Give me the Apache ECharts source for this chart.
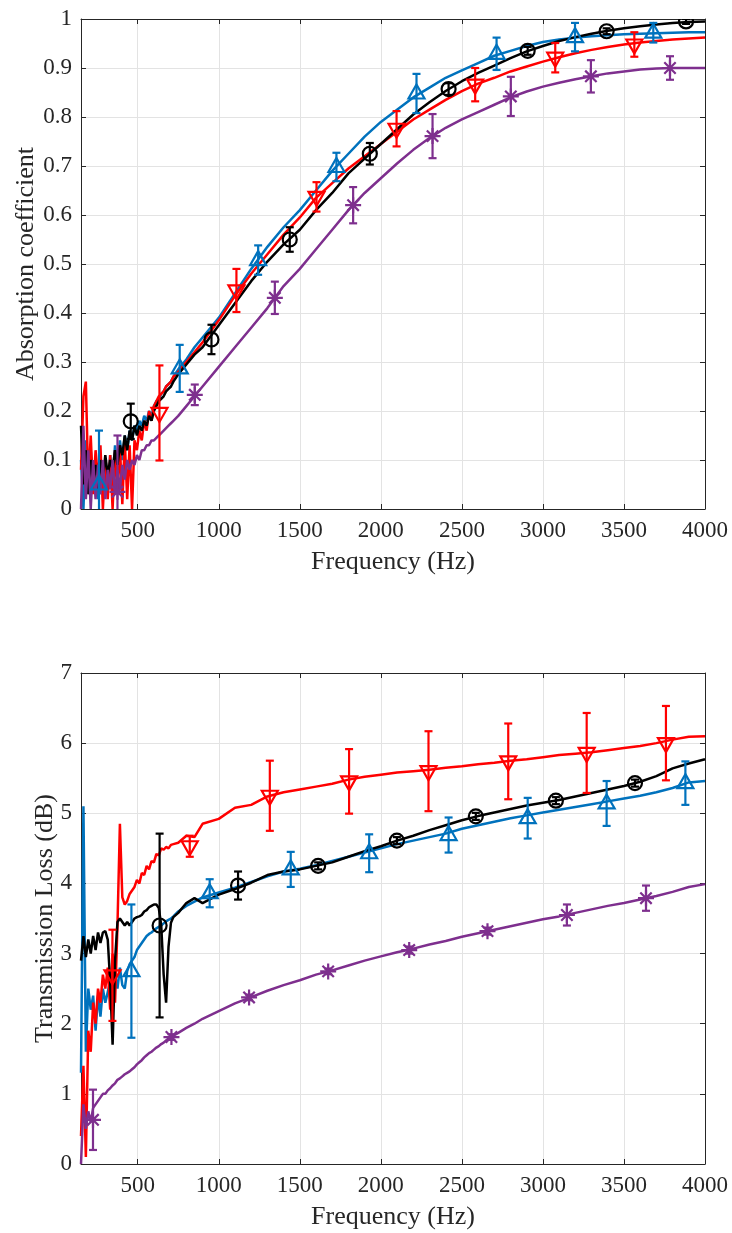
<!DOCTYPE html>
<html>
<head>
<meta charset="utf-8">
<script src="https://cdn.jsdelivr.net/npm/echarts@6/dist/echarts.min.js"></script>
<style>
  html, body { margin: 0; padding: 0; background: #fff; }
  #chart { width: 732px; height: 1233px; }
</style>
</head>
<body>
<div id="chart"></div>
<script>
// frequency grid shared by every measured curve (Hz)
const freq = [150,165,180,195,210,225,240,255,270,285,
  300,315,330,345,360,375,390,405,420,435,
  450,465,480,495,510,525,540,555,570,585,
  600,615,630,645,660,675,690,705,720,
  750,800,850,900,
  1000,1100,1200,1300,1400,1500,1600,1700,1800,1900,
  2000,2100,2200,2300,2400,2500,2600,2700,2800,2900,
  3000,3100,3200,3300,3400,3500,3600,3700,3800,3900,4000]

const xTicks = [500,1000,1500,2000,2500,3000,3500,4000]

// absorption coefficient curves
const absBlack = [0.17,0.05,0.12,0.03,0.10,0.06,0.09,0.04,0.10,0.06,
  0.11,0.07,0.10,0.08,0.12,0.09,0.13,0.11,0.15,0.12,
  0.16,0.14,0.17,0.15,0.17,0.16,0.18,0.17,0.19,0.18,
  0.20,0.21,0.22,0.225,0.23,0.24,0.245,0.25,0.26,
  0.275,0.295,0.315,0.33,
  0.375,0.42,0.465,0.505,0.54,0.57,0.61,0.645,0.685,0.715,
  0.745,0.775,0.805,0.83,0.853,0.873,0.89,0.905,0.92,0.934,
  0.945,0.955,0.963,0.97,0.976,0.981,0.985,0.989,0.992,0.994,0.995]
const absBlue = [0.10,0.0,0.14,0.04,0.12,0.05,0.10,0.02,0.11,0.05,
  0.10,0.04,0.11,0.06,0.13,0.08,0.14,0.10,0.15,0.12,
  0.16,0.14,0.17,0.16,0.18,0.17,0.19,0.18,0.20,0.19,
  0.21,0.22,0.225,0.235,0.24,0.25,0.255,0.26,0.27,
  0.285,0.305,0.33,0.35,
  0.39,0.44,0.49,0.535,0.575,0.61,0.65,0.69,0.725,0.76,
  0.79,0.815,0.84,0.86,0.88,0.895,0.91,0.925,0.935,0.945,
  0.953,0.958,0.962,0.965,0.967,0.969,0.97,0.971,0.972,0.973,0.973]
const absRed = [0.08,0.23,0.26,0.05,0.15,0.03,0.12,0.06,0.13,0.0,
  0.10,0.02,0.11,0.0,0.12,0.03,0.13,0.01,0.14,0.02,
  0.13,0.0,0.14,0.12,0.16,0.14,0.18,0.16,0.20,0.18,
  0.21,0.22,0.23,0.235,0.24,0.25,0.255,0.26,0.27,
  0.28,0.30,0.32,0.34,
  0.385,0.435,0.48,0.52,0.56,0.595,0.635,0.665,0.695,0.72,
  0.745,0.77,0.795,0.815,0.835,0.853,0.868,0.88,0.893,0.903,
  0.913,0.922,0.93,0.937,0.943,0.948,0.952,0.955,0.958,0.96,0.962]
const absPurple = [0.0,0.17,0.02,0.12,0.0,0.10,0.02,0.09,0.03,0.10,
  0.02,0.08,0.04,0.10,0.03,0.08,0.04,0.09,0.06,0.10,
  0.08,0.10,0.09,0.11,0.10,0.12,0.12,0.13,0.13,0.14,
  0.14,0.145,0.15,0.155,0.16,0.165,0.17,0.175,0.18,
  0.19,0.21,0.23,0.25,
  0.29,0.33,0.37,0.41,0.455,0.49,0.53,0.57,0.61,0.645,
  0.675,0.705,0.733,0.757,0.778,0.795,0.81,0.825,0.84,0.852,
  0.862,0.87,0.877,0.883,0.889,0.893,0.897,0.899,0.90,0.90,0.90]

// transmission loss curves (dB)
const tlBlack = [2.9,3.25,2.95,3.2,3.0,3.25,3.05,3.3,3.15,3.3,
  3.32,3.2,2.6,1.7,2.9,3.45,3.5,3.45,3.4,3.45,
  3.4,3.45,3.5,3.52,3.53,3.55,3.6,3.62,3.66,3.68,
  3.7,3.7,3.65,3.4,2.7,2.3,3.1,3.44,3.52,
  3.58,3.72,3.79,3.72,
  3.84,3.92,4.01,4.12,4.17,4.2,4.25,4.3,4.38,4.46,
  4.53,4.61,4.68,4.76,4.83,4.9,4.96,5.01,5.06,5.11,
  5.15,5.19,5.24,5.29,5.34,5.39,5.45,5.53,5.64,5.71,5.77]
const tlBlue = [1.3,5.1,1.6,2.5,2.2,2.4,1.9,2.4,2.1,2.5,
  2.3,2.45,2.6,2.3,2.7,2.5,2.8,2.55,2.5,2.75,
  2.85,2.9,2.95,3.05,3.1,3.15,3.2,3.25,3.28,3.3,
  3.33,3.36,3.38,3.4,3.43,3.46,3.48,3.5,3.53,
  3.6,3.68,3.74,3.8,
  3.87,3.94,4.02,4.1,4.17,4.21,4.26,4.32,4.38,4.44,
  4.5,4.56,4.61,4.66,4.71,4.78,4.83,4.88,4.93,4.97,
  5.01,5.05,5.09,5.13,5.17,5.21,5.25,5.3,5.36,5.44,5.46]
const tlRed = [0.4,1.4,0.1,1.9,1.6,2.3,2.0,2.5,2.3,2.7,
  2.5,2.8,2.2,3.0,2.3,3.4,4.85,3.8,3.7,3.75,
  3.85,3.9,3.95,4.05,4.0,4.15,4.12,4.25,4.2,4.32,
  4.3,4.42,4.4,4.5,4.48,4.52,4.5,4.55,4.56,
  4.58,4.68,4.66,4.85,
  4.92,5.08,5.12,5.24,5.3,5.34,5.38,5.42,5.48,5.52,
  5.55,5.58,5.6,5.62,5.65,5.67,5.7,5.72,5.75,5.77,
  5.8,5.83,5.85,5.87,5.9,5.93,5.96,6.0,6.05,6.09,6.1]
const tlPurple = [0.0,0.85,0.5,0.75,0.6,0.8,0.85,0.9,0.95,1.0,
  1.0,1.05,1.08,1.12,1.15,1.2,1.22,1.25,1.28,1.3,
  1.32,1.35,1.38,1.42,1.45,1.48,1.52,1.55,1.58,1.6,
  1.63,1.66,1.68,1.71,1.73,1.76,1.79,1.81,1.83,
  1.87,1.94,2.0,2.07,
  2.18,2.29,2.38,2.47,2.55,2.62,2.7,2.76,2.83,2.9,
  2.96,3.02,3.07,3.13,3.18,3.24,3.29,3.34,3.39,3.44,
  3.49,3.53,3.58,3.63,3.68,3.72,3.77,3.82,3.88,3.95,3.99]

// marker points with error bars: frequency, mean, half-width
const absBlackMkF = [457,955,1438,1932,2418,2906,3393,3883]
const absBlackMkV = [0.179,0.346,0.55,0.725,0.857,0.935,0.975,0.995]
const absBlackMkE = [0.036,0.03,0.025,0.022,0.012,0.008,0.006,0.005]
const absBlueMkF = [261,759,1243,1726,2220,2714,3198,3681]
const absBlueMkV = [0.05,0.287,0.508,0.698,0.848,0.929,0.963,0.972]
const absBlueMkE = [0.11,0.048,0.03,0.029,0.04,0.033,0.029,0.02]
const absRedMkF = [634,1109,1603,2097,2582,3076,3564]
const absRedMkV = [0.196,0.446,0.637,0.776,0.866,0.921,0.948]
const absRedMkE = [0.097,0.044,0.03,0.036,0.034,0.03,0.025]
const absPurpleMkF = [375,852,1346,1829,2319,2802,3296,3784]
const absPurpleMkV = [0.035,0.233,0.431,0.62,0.761,0.842,0.883,0.90]
const absPurpleMkE = [0.115,0.021,0.033,0.037,0.045,0.04,0.033,0.024]

const tlBlackMkF = [635,1119,1613,2099,2586,3080,3568]
const tlBlackMkV = [3.40,3.97,4.25,4.61,4.956,5.18,5.43]
const tlBlackMkE = [1.31,0.2,0.05,0.05,0.05,0.05,0.05]
const tlBlueMkF = [461,944,1444,1928,2418,2906,3393,3879]
const tlBlueMkV = [2.75,3.86,4.2,4.43,4.69,4.93,5.14,5.43]
const tlBlueMkE = [0.95,0.2,0.25,0.27,0.25,0.29,0.32,0.31]
const tlRedMkF = [344,821,1315,1804,2294,2786,3270,3759]
const tlRedMkV = [2.69,4.53,5.25,5.455,5.6,5.74,5.86,6.0]
const tlRedMkE = [0.65,0.15,0.5,0.46,0.57,0.54,0.57,0.53]
const tlPurpleMkF = [224,708,1187,1675,2175,2658,3148,3636]
const tlPurpleMkV = [0.63,1.81,2.375,2.746,3.05,3.32,3.55,3.79]
const tlPurpleMkE = [0.43,0.04,0.04,0.04,0.05,0.05,0.15,0.18]

const FONT = 'Liberation Serif'
const AX = '#262626'
const GRIDC = '#e3e3e3'
const BLACK = '#000000'
const BLUE = '#0072BD'
const RED = '#FF0000'
const PURPLE = '#7E2F8E'

const chart = echarts.init(document.getElementById('chart'))

function pairs(ys) {
  return freq.map((f, i) => [f, ys[i]])
}

function triples(fs, vs, es) {
  return fs.map((f, i) => [f, vs[i], es[i]])
}

function markerShape(kind, cx, cy, style) {
  if (kind === 'circle') {
    return { type: 'circle', shape: { cx, cy, r: 7 }, style }
  }
  if (kind === 'up') {
    return { type: 'polygon', shape: { points: [[cx, cy - 9], [cx + 8, cy + 5], [cx - 8, cy + 5]] }, style }
  }
  if (kind === 'down') {
    return { type: 'polygon', shape: { points: [[cx, cy + 9], [cx + 8, cy - 5], [cx - 8, cy - 5]] }, style }
  }
  // asterisk: plus and cross
  const d = 8, k = 5.7
  const p = `M${cx - d} ${cy}L${cx + d} ${cy}M${cx} ${cy - d}L${cx} ${cy + d}` +
    `M${cx - k} ${cy - k}L${cx + k} ${cy + k}M${cx - k} ${cy + k}L${cx + k} ${cy - k}`
  return { type: 'path', shape: { pathData: p }, style }
}

function errorBars(data, kind, color, xi) {
  return {
    type: 'custom',
    xAxisIndex: xi,
    yAxisIndex: xi,
    clip: true,
    data,
    z: 5,
    renderItem(params, api) {
      const f = api.value(0), v = api.value(1), e = api.value(2)
      const c = api.coord([f, v])
      const hi = api.coord([f, v + e])
      const lo = api.coord([f, v - e])
      const style = { stroke: color, lineWidth: 2.2, fill: 'none' }
      const cap = 4
      return {
        type: 'group',
        children: [
          { type: 'line', shape: { x1: c[0], y1: hi[1], x2: c[0], y2: lo[1] }, style },
          { type: 'line', shape: { x1: c[0] - cap, y1: hi[1], x2: c[0] + cap, y2: hi[1] }, style },
          { type: 'line', shape: { x1: c[0] - cap, y1: lo[1], x2: c[0] + cap, y2: lo[1] }, style },
          markerShape(kind, c[0], c[1], style)
        ]
      }
    }
  }
}

function curve(ys, color, xi) {
  return {
    type: 'line',
    xAxisIndex: xi,
    yAxisIndex: xi,
    data: pairs(ys),
    showSymbol: false,
    symbol: 'none',
    clip: true,
    lineStyle: { color, width: 2.5 },
    itemStyle: { color },
    z: 3
  }
}

function xAxes(gridIndex) {
  const tick = { show: true, inside: true, length: 5, customValues: xTicks, lineStyle: { color: AX } }
  const line = { show: true, onZero: false, lineStyle: { color: AX, width: 1 } }
  return [
    {
      type: 'value', gridIndex, position: 'bottom', min: 150, max: 4000,
      name: 'Frequency (Hz)', nameLocation: 'middle', nameGap: 40, nameMoveOverlap: false,
      nameTextStyle: { fontFamily: FONT, fontSize: 26, color: AX },
      axisLine: line, axisTick: tick,
      axisLabel: {
        show: true, customValues: xTicks, margin: 10, fontFamily: FONT, fontSize: 23, color: AX,
        formatter: v => String(v)
      },
      splitLine: { show: true, lineStyle: { color: GRIDC, width: 1 } }
    },
    {
      type: 'value', gridIndex, position: 'top', min: 150, max: 4000,
      axisLine: line, axisTick: tick,
      axisLabel: { show: false }, splitLine: { show: false }
    }
  ]
}

function yAxes(gridIndex, max, step, name, gap) {
  const tick = { show: true, inside: true, length: 5, lineStyle: { color: AX } }
  const line = { show: true, onZero: false, lineStyle: { color: AX, width: 1 } }
  return [
    {
      type: 'value', gridIndex, position: 'left', min: 0, max, interval: step,
      name, nameLocation: 'middle', nameGap: gap, nameMoveOverlap: false,
      nameTextStyle: { fontFamily: FONT, fontSize: 26, color: AX },
      axisLine: line, axisTick: tick,
      axisLabel: {
        margin: 9, fontFamily: FONT, fontSize: 23, color: AX,
        formatter: v => String(+v.toFixed(1))
      },
      splitLine: { show: true, lineStyle: { color: GRIDC, width: 1 } }
    },
    {
      type: 'value', gridIndex, position: 'right', min: 0, max, interval: step,
      axisLine: line, axisTick: tick,
      axisLabel: { show: false }, splitLine: { show: false }
    }
  ]
}

const option = {
  backgroundColor: '#ffffff',
  animation: false,
  grid: [
    { left: 81, top: 19, width: 624, height: 490, outerBoundsMode: 'none' },
    { left: 81, top: 673, width: 624, height: 491, outerBoundsMode: 'none' }
  ],
  xAxis: [...xAxes(0), ...xAxes(1)],
  yAxis: [
    ...yAxes(0, 1, 0.1, 'Absorption coefficient', 42),
    ...yAxes(1, 7, 1, 'Transmission Loss (dB)', 23)
  ],
  series: [
    curve(absBlue, BLUE, 0),
    curve(absRed, RED, 0),
    curve(absBlack, BLACK, 0),
    curve(absPurple, PURPLE, 0),
    errorBars(triples(absBlueMkF, absBlueMkV, absBlueMkE), 'up', BLUE, 0),
    errorBars(triples(absRedMkF, absRedMkV, absRedMkE), 'down', RED, 0),
    errorBars(triples(absBlackMkF, absBlackMkV, absBlackMkE), 'circle', BLACK, 0),
    errorBars(triples(absPurpleMkF, absPurpleMkV, absPurpleMkE), 'star', PURPLE, 0),

    curve(tlBlue, BLUE, 2),
    curve(tlRed, RED, 2),
    curve(tlBlack, BLACK, 2),
    curve(tlPurple, PURPLE, 2),
    errorBars(triples(tlBlueMkF, tlBlueMkV, tlBlueMkE), 'up', BLUE, 2),
    errorBars(triples(tlRedMkF, tlRedMkV, tlRedMkE), 'down', RED, 2),
    errorBars(triples(tlBlackMkF, tlBlackMkV, tlBlackMkE), 'circle', BLACK, 2),
    errorBars(triples(tlPurpleMkF, tlPurpleMkV, tlPurpleMkE), 'star', PURPLE, 2)
  ]
}

chart.setOption(option)
</script>
</body>
</html>
